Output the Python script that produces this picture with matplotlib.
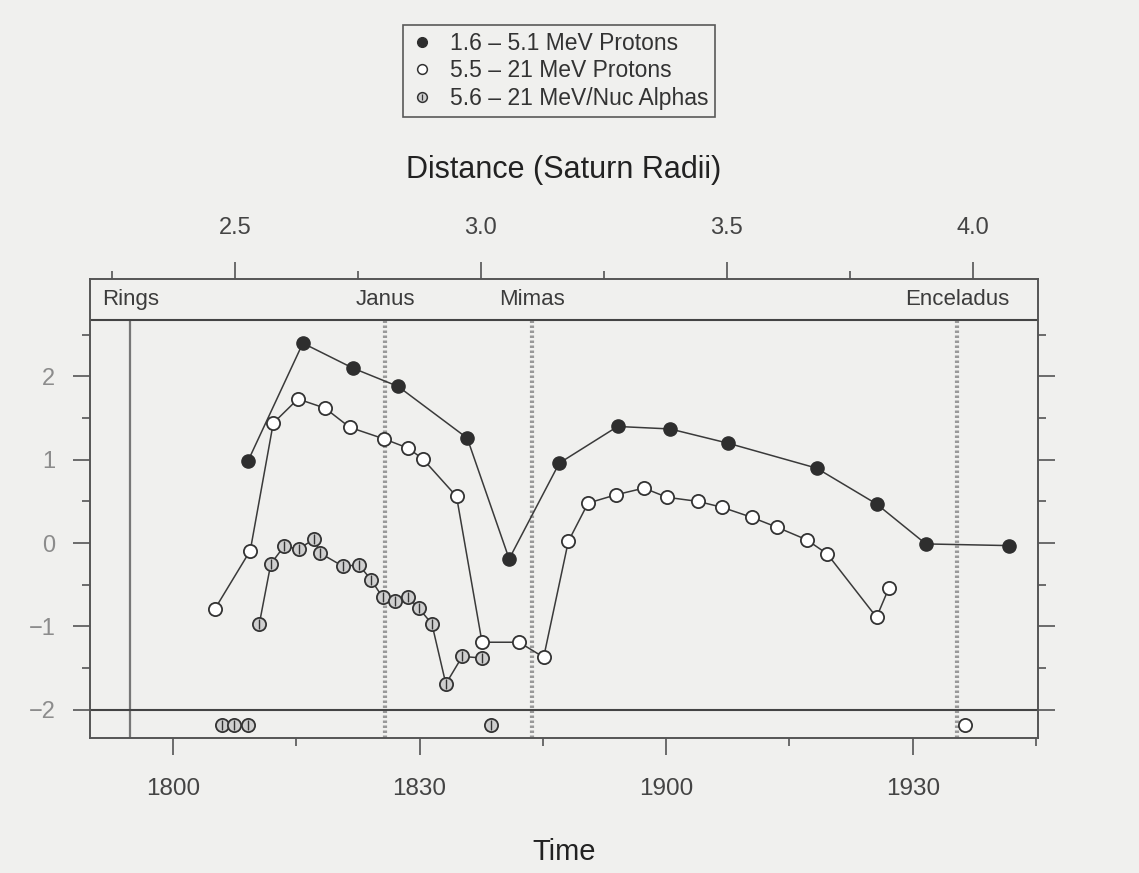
import matplotlib.pyplot as plt
from matplotlib.lines import Line2D

plt.rcParams['font.family'] = ['Liberation Sans', 'DejaVu Sans']

# Time in minutes after 18:00 (tick labels are HHMM)
time_ticks = [0, 30, 60, 90]
time_labels = ['1800', '1830', '1900', '1930']
dist_ticks = [2.5, 3.0, 3.5, 4.0]
dist_labels = ['2.5', '3.0', '3.5', '4.0']

# 1.6 - 5.1 MeV protons
t_p1 = [9.1, 15.8, 21.9, 27.4, 35.8, 40.9, 47.0, 54.1, 60.5, 67.5, 78.3, 85.6, 91.6, 101.7]
v_p1 = [0.98, 2.40, 2.10, 1.88, 1.26, -0.19, 0.96, 1.40, 1.37, 1.20, 0.90, 0.47, -0.01, -0.03]

# 5.5 - 21 MeV protons
t_p2 = [5.1, 9.4, 12.2, 15.2, 18.5, 21.5, 25.7, 28.6, 30.4, 34.5, 37.6, 42.1, 45.1,
        48.1, 50.5, 53.9, 57.3, 60.1, 63.9, 66.8, 70.4, 73.5, 77.1, 79.6, 85.6, 87.1]
v_p2 = [-0.79, -0.09, 1.44, 1.73, 1.62, 1.39, 1.25, 1.14, 1.01, 0.56, -1.19, -1.19, -1.37,
        0.02, 0.48, 0.58, 0.66, 0.55, 0.50, 0.43, 0.31, 0.19, 0.04, -0.13, -0.89, -0.54]

# 5.6 - 21 MeV/Nuc alphas
t_al = [10.5, 11.9, 13.5, 15.3, 17.2, 17.9, 20.7, 22.6, 24.1, 25.5, 27.0, 28.6, 29.9,
        31.5, 33.2, 35.2, 37.6]
v_al = [-0.97, -0.25, -0.04, -0.07, 0.05, -0.12, -0.28, -0.26, -0.44, -0.65, -0.70,
        -0.65, -0.78, -0.97, -1.69, -1.36, -1.38]

# off-scale points shown in the bottom strip
t_al_low = [6.0, 7.4, 9.1, 38.7]
t_p2_low = [96.4]
strip_y = -2.18

# moons / rings positions (minutes)
moon_names = ['Rings', 'Janus', 'Mimas', 'Enceladus']
moon_t = [-5.2, 25.8, 43.7, 95.4]


def m2r(m):
    return 2.374 + 0.016707 * m


def r2m(r):
    return (r - 2.374) / 0.016707


bg = '#f0f0ee'
ink = '#3a3a3a'
fig = plt.figure(figsize=(11.39, 8.73), dpi=100, facecolor=bg)
ax = fig.add_axes([0.079, 0.1546, 0.832, 0.5258], facecolor=bg)

ymin, ymax = -2.34, 3.17
strip_top = 2.68
ax.set_xlim(-10.1, 105.2)
ax.set_ylim(ymin, ymax)

# reference lines
ax.axhline(strip_top, color='#444', lw=1.5, zorder=2)
ax.axhline(-2, color='#444', lw=1.5, zorder=2)
for name, t in zip(moon_names, moon_t):
    if name == 'Rings':
        ax.vlines(t, ymin, strip_top, color='#777', lw=1.6, zorder=1)
    else:
        ax.vlines(t, ymin, strip_top, color='#999', lw=3, linestyles=(0, (0.6, 0.6)), zorder=1)
    ax.text(t, 2.93, name, ha='center', va='center', fontsize=16, color='#3c3c3c')

# series
ax.plot(t_p2, v_p2, '-', color=ink, lw=1.1, marker='o', ms=9.5, mfc='white',
        mec='#333', mew=1.3, zorder=4)
ax.plot(t_al, v_al, '-', color=ink, lw=1.1, marker='o', ms=9.5, mfc='#cfcfcf',
        mec='#333', mew=1.3, zorder=4)
ax.plot(t_al, v_al, ls='none', marker='|', ms=7, mec='#333', mew=1.0, zorder=5)
ax.plot(t_p1, v_p1, '-', color=ink, lw=1.1, marker='o', ms=9.5, mfc='#2e2e2e',
        mec='#2e2e2e', zorder=4)

ax.plot(t_al_low, [strip_y] * len(t_al_low), ls='none', marker='o', ms=9.5,
        mfc='#cfcfcf', mec='#333', mew=1.3, zorder=4)
ax.plot(t_al_low, [strip_y] * len(t_al_low), ls='none', marker='|', ms=7,
        mec='#333', mew=1.0, zorder=5)
ax.plot(t_p2_low, [strip_y] * len(t_p2_low), ls='none', marker='o', ms=9.5,
        mfc='white', mec='#333', mew=1.3, zorder=4)

# axes styling
for s in ax.spines.values():
    s.set_color('#555')
    s.set_linewidth(1.4)

ax.set_xticks(time_ticks)
ax.set_xticklabels(time_labels)
ax.set_xticks([-15 + 15 * i for i in range(1, 9)], minor=True)
ax.set_yticks([-2, -1, 0, 1, 2])
ax.set_yticks([-1.5, -0.5, 0.5, 1.5, 2.5], minor=True)
ax.yaxis.set_ticks_position('both')
ax.tick_params(axis='both', which='major', length=12, width=1.2, color='#555')
ax.tick_params(axis='both', which='minor', length=6, width=1.2, color='#555')
ax.tick_params(axis='x', labelsize=17.5, labelcolor='#444', pad=17)
ax.tick_params(axis='y', labelsize=17, labelcolor='#8c8c8c', pad=13, labelright=False)
ax.set_xlabel('Time', fontsize=21, color='#222', labelpad=27)

sec = ax.secondary_xaxis('top', functions=(m2r, r2m))
sec.set_xticks(dist_ticks)
sec.set_xticklabels(dist_labels)
sec.set_xticks([2.25, 2.75, 3.25, 3.75], minor=True)
sec.tick_params(which='major', length=12, width=1.2, color='#555', labelsize=17,
                labelcolor='#444', pad=17)
sec.tick_params(which='minor', length=6, width=1.2, color='#555')
sec.spines['top'].set_visible(False)
sec.set_xlabel('Distance (Saturn Radii)', fontsize=22, color='#222', labelpad=28)

# legend
h1 = Line2D([], [], ls='none', marker='o', ms=7, mfc='#2e2e2e', mec='#2e2e2e')
h2 = Line2D([], [], ls='none', marker='o', ms=7, mfc='white', mec='#333', mew=1.1)
h3a = Line2D([], [], ls='none', marker='o', ms=7, mfc='#cfcfcf', mec='#333', mew=1.1)
h3b = Line2D([], [], ls='none', marker='|', ms=5, mec='#333', mew=0.9)
leg = fig.legend([h1, h2, (h3a, h3b)],
                 ['1.6 – 5.1 MeV Protons', '5.5 – 21 MeV Protons', '5.6 – 21 MeV/Nuc Alphas'],
                 loc='upper left', bbox_to_anchor=(403 / 1139, 1 - 25 / 873),
                 fontsize=16.5, frameon=True, fancybox=False, handlelength=1.1,
                 handletextpad=0.65, labelspacing=0.2, borderpad=0.3, borderaxespad=0)
leg.get_frame().set_edgecolor('#333')
leg.get_frame().set_linewidth(1.2)
leg.get_frame().set_facecolor(bg)
for txt in leg.get_texts():
    txt.set_color('#333')

fig.savefig('out.png', dpi=100, facecolor=bg)
